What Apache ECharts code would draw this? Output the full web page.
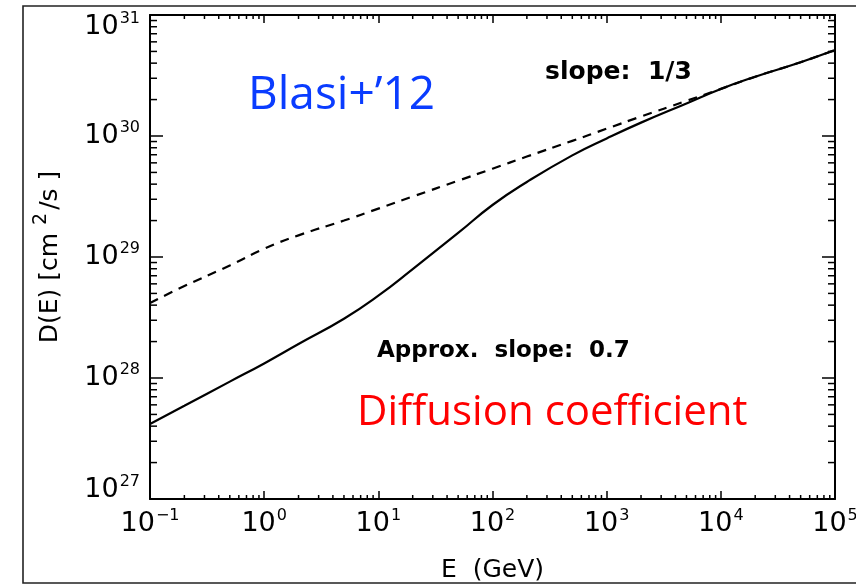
<!DOCTYPE html>
<html>
<head>
<meta charset="utf-8">
<script src="https://cdn.jsdelivr.net/npm/echarts@6/dist/echarts.min.js"></script>
<style>
html,body{margin:0;padding:0;background:#fff;}
#c{width:856px;height:586px;}
</style>
</head>
<body>
<div id="c"></div>
<script>
// ---- data ----
const energy = [0.1, 0.2, 0.5, 1, 2, 5, 10, 20, 50, 100, 200, 500, 1000, 2000, 5000, 1e4, 2e4, 5e4, 1e5];
const dSolid = [4.17e27, 5.89e27, 9.33e27, 1.32e28, 1.91e28, 3.09e28, 4.79e28, 7.94e28, 1.58e29, 2.69e29, 4.17e29, 6.92e29, 9.55e29, 1.29e30, 1.86e30, 2.45e30, 3.09e30, 4.07e30, 5.13e30];
const dDashed = [4.17e28, 5.75e28, 8.51e28, 1.17e29, 1.51e29, 2.0e29, 2.51e29, 3.16e29, 4.27e29, 5.37e29, 6.76e29, 9.12e29, 1.15e30, 1.45e30, 1.95e30, 2.45e30, 3.09e30, 4.07e30, 5.13e30];
const xRange = [0.1, 1e5];
const yRange = [1e27, 1e31];
const xTitle = 'E  (GeV)';
const annotations = ['Blasi+\u201912', 'Diffusion coefficient', 'slope:  1/3', 'Approx.  slope:  0.7'];

// minor tick values (2..9 per decade)
function minors(lo, hi) {
  const out = [];
  for (let k = Math.round(Math.log10(lo)); k < Math.round(Math.log10(hi)); k++) {
    for (let m = 2; m <= 9; m++) out.push(m * Math.pow(10, k));
  }
  return out;
}
const xMinor = minors(xRange[0], xRange[1]);
const yMinor = minors(yRange[0], yRange[1]);

const FONT = 'DejaVu Sans';
function expLabel(v, which) {
  const e = Math.round(Math.log10(v));
  const es = e < 0 ? '\u2212' + (-e) : String(e);
  if (which === 'y') {
    if (v >= yRange[1] * 0.999) return '{bt|10}{st|' + es + '}';
    if (v <= yRange[0] * 1.001) return '{bb|10}{sb|' + es + '}';
  }
  return '{b|10}{s|' + es + '}';
}
const richLab = {
  b: {fontFamily: FONT, fontSize: 27, color: '#000', lineHeight: 30},
  s: {fontFamily: FONT, fontSize: 16, color: '#000', lineHeight: 14, padding: [0, 0, 16, 1]},
  bt: {fontFamily: FONT, fontSize: 27, color: '#000', lineHeight: 30, padding: [24, 0, 0, 0]},
  st: {fontFamily: FONT, fontSize: 16, color: '#000', lineHeight: 14, padding: [24, 0, 16, 1]},
  bb: {fontFamily: FONT, fontSize: 27, color: '#000', lineHeight: 30, padding: [0, 0, 19, 0]},
  sb: {fontFamily: FONT, fontSize: 16, color: '#000', lineHeight: 14, padding: [0, 0, 35, 1]}
};

const axisLineStyle = {show: true, lineStyle: {color: '#000', width: 2}};

const chart = echarts.init(document.getElementById('c'), null, {renderer: 'canvas'});
chart.setOption({
  animation: false,
  backgroundColor: '#fff',
  grid: {left: 150, top: 15, right: 21, bottom: 87, containLabel: false, outerBoundsMode: 'none'},
  xAxis: [
    {
      type: 'log', min: xRange[0], max: xRange[1], position: 'bottom',
      axisLine: axisLineStyle,
      axisTick: {show: true, inside: true, length: 8, lineStyle: {color: '#000', width: 1.5}},
      splitLine: {show: false},
      axisLabel: {show: true, margin: 10, formatter: v => expLabel(v, 'x'), rich: richLab, showMinLabel: true, showMaxLabel: true, hideOverlap: false},
      name: xTitle, nameLocation: 'middle', nameGap: 59,
      nameTextStyle: {fontFamily: FONT, fontSize: 25, color: '#000'}
    },
    {
      type: 'log', min: xRange[0], max: xRange[1], position: 'top',
      axisLine: axisLineStyle,
      axisTick: {show: true, inside: true, length: 8, lineStyle: {color: '#000', width: 1.5}},
      splitLine: {show: false},
      axisLabel: {show: false}
    }
  ],
  yAxis: [
    {
      type: 'log', min: yRange[0], max: yRange[1], position: 'left',
      axisLine: axisLineStyle,
      axisTick: {show: true, inside: true, length: 13, lineStyle: {color: '#000', width: 1.5}},
      splitLine: {show: false},
      axisLabel: {show: true, margin: 10, formatter: v => expLabel(v, 'y'), rich: richLab, showMinLabel: true, showMaxLabel: true},
      name: '{n|D(E) [cm}{p|2}{n|/s ]}', nameLocation: 'middle', nameGap: 86, nameRotate: 90,
      nameTextStyle: {
        rich: {
          n: {fontFamily: FONT, fontSize: 25, color: '#000', lineHeight: 28},
          p: {fontFamily: FONT, fontSize: 19, color: '#000', lineHeight: 10, padding: [0, 3, 18, 8]}
        }
      }
    },
    {
      type: 'log', min: yRange[0], max: yRange[1], position: 'right',
      axisLine: axisLineStyle,
      axisTick: {show: true, inside: true, length: 13, lineStyle: {color: '#000', width: 1.5}},
      splitLine: {show: false},
      axisLabel: {show: false}
    }
  ],
  series: [
    {
      type: 'line', xAxisIndex: 0, yAxisIndex: 0, smooth: 0.5, symbol: 'none',
      data: energy.map((e, i) => [e, dSolid[i]]),
      lineStyle: {color: '#000', width: 2.2, type: 'solid'}, z: 3
    },
    {
      type: 'line', xAxisIndex: 0, yAxisIndex: 0, smooth: 0.5, symbol: 'none',
      data: energy.map((e, i) => [e, dDashed[i]]),
      lineStyle: {color: '#000', width: 2.2, type: [9, 7]}, z: 3
    },
    {
      type: 'custom', xAxisIndex: 0, yAxisIndex: 0, clip: false, silent: true,
      data: xMinor.map(v => [v, yRange[0]]),
      renderItem: function (params, api) {
        const v = api.value(0);
        const pb = api.coord([v, yRange[0]]);
        const pt = api.coord([v, yRange[1]]);
        const st = {stroke: '#000', lineWidth: 1.5};
        return {type: 'group', children: [
          {type: 'line', shape: {x1: pb[0], y1: pb[1], x2: pb[0], y2: pb[1] - 4}, style: st},
          {type: 'line', shape: {x1: pt[0], y1: pt[1], x2: pt[0], y2: pt[1] + 4}, style: st}
        ]};
      }
    },
    {
      type: 'custom', xAxisIndex: 0, yAxisIndex: 0, clip: false, silent: true,
      data: yMinor.map(v => [xRange[0], v]),
      renderItem: function (params, api) {
        const v = api.value(1);
        const pl = api.coord([xRange[0], v]);
        const pr = api.coord([xRange[1], v]);
        const st = {stroke: '#000', lineWidth: 1.5};
        return {type: 'group', children: [
          {type: 'line', shape: {x1: pl[0], y1: pl[1], x2: pl[0] + 7, y2: pl[1]}, style: st},
          {type: 'line', shape: {x1: pr[0], y1: pr[1], x2: pr[0] - 7, y2: pr[1]}, style: st}
        ]};
      }
    }
  ],
  graphic: [
    {type: 'rect', shape: {x: 23, y: 6, width: 840, height: 577}, style: {fill: 'none', stroke: '#222', lineWidth: 1.6}, z: 0, silent: true},
    {type: 'text', x: 248, y: 96, style: {text: annotations[0], fontFamily: 'Open Sans', fontSize: 46, fill: '#0a3cff', verticalAlign: 'middle', align: 'left'}},
    {type: 'text', x: 357, y: 413, style: {text: annotations[1], fontFamily: 'Open Sans', fontSize: 42, fill: '#ff0000', verticalAlign: 'middle', align: 'left'}},
    {type: 'text', x: 545, y: 72, style: {text: annotations[2], fontFamily: FONT, fontWeight: 'bold', fontSize: 25, fill: '#000', verticalAlign: 'middle', align: 'left'}},
    {type: 'text', x: 377, y: 351, style: {text: annotations[3], fontFamily: FONT, fontWeight: 'bold', fontSize: 23, fill: '#000', verticalAlign: 'middle', align: 'left'}}
  ]
});
</script>
</body>
</html>
